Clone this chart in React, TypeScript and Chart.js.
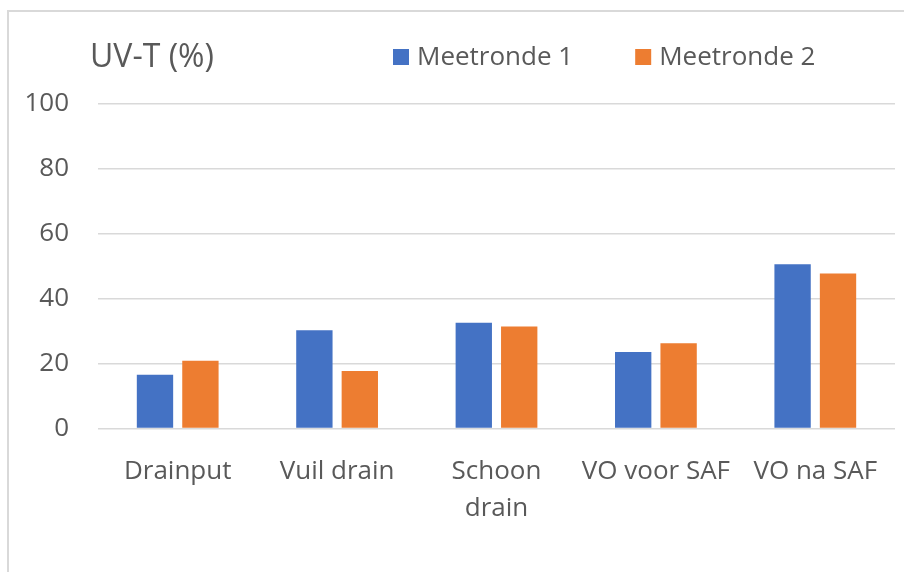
import { useEffect, useRef } from "react";
import { Chart, registerables } from "chart.js";

Chart.register(...registerables);

const categories: (string | string[])[] = ["Drainput", "Vuil drain", ["Schoon", "drain"], "VO voor SAF", "VO na SAF"];
const seriesNames = ["Meetronde 1", "Meetronde 2"];
const meetronde1 = [16.6, 30.3, 32.6, 23.6, 50.6];
const meetronde2 = [20.9, 17.7, 31.4, 26.3, 47.8];
const yMin = 0;
const yMax = 100;
const yStep = 20;
const yTitle = "UV-T (%)";

const BLUE = "#4472C4";
const ORANGE = "#ED7D31";
const TEXT = "#595959";
const GRID = "#d9d9d9";
const FONT = '"Open Sans", "Liberation Sans", sans-serif';

const headerPlugin = {
  id: "header",
  afterDraw(chart: any) {
    const ctx = chart.ctx as CanvasRenderingContext2D;
    const area = chart.chartArea;
    ctx.save();
    ctx.fillStyle = TEXT;
    ctx.textAlign = "left";
    ctx.textBaseline = "alphabetic";
    ctx.font = `32px ${FONT}`;
    ctx.fillText(yTitle, area.left - 8, 67);
    ctx.font = `26px ${FONT}`;
    let x = area.left + 295;
    chart.data.datasets.forEach((ds: any) => {
      ctx.fillStyle = ds.backgroundColor;
      ctx.fillRect(x, 49, 16, 16);
      ctx.fillStyle = TEXT;
      ctx.fillText(ds.label, x + 24, 65);
      x += 24 + ctx.measureText(ds.label).width + 62;
    });
    ctx.restore();
  },
};

export default function App() {
  const ref = useRef<HTMLCanvasElement | null>(null);

  useEffect(() => {
    if (!ref.current) return;
    const chart = new Chart(ref.current, {
      type: "bar",
      data: {
        labels: categories,
        datasets: [
          {
            label: seriesNames[0],
            data: meetronde1,
            backgroundColor: BLUE,
            categoryPercentage: 0.57,
            barPercentage: 0.8,
          },
          {
            label: seriesNames[1],
            data: meetronde2,
            backgroundColor: ORANGE,
            categoryPercentage: 0.57,
            barPercentage: 0.8,
          },
        ],
      },
      options: {
        responsive: false,
        animation: false,
        layout: { padding: { top: 104, right: 9, left: 0, bottom: 0 } },
        plugins: {
          legend: { display: false },
          tooltip: { enabled: false },
          title: { display: false },
        },
        scales: {
          x: {
            grid: { display: false },
            border: { display: false },
            ticks: {
              color: TEXT,
              font: { family: FONT, size: 26, lineHeight: 1.42 },
              padding: 17,
              maxRotation: 0,
              autoSkip: false,
            },
            afterFit: (scale: any) => {
              scale.height = 143.5;
            },
          },
          y: {
            min: yMin,
            max: yMax,
            border: { display: false },
            grid: { color: GRID, lineWidth: 1.5, drawTicks: false },
            ticks: {
              stepSize: yStep,
              color: TEXT,
              font: { family: FONT, size: 26 },
              padding: 29,
            },
            afterFit: (scale: any) => {
              scale.width = 98;
            },
          },
        },
      },
      plugins: [headerPlugin],
    });
    return () => chart.destroy();
  }, []);

  return (
    <div style={{ position: "fixed", left: 0, top: 0, width: 904, height: 572, overflow: "hidden", background: "#fff" }}>
      <canvas ref={ref} width={904} height={572} style={{ display: "block", position: "absolute", left: 0, top: 0 }} />
      <div
        style={{
          position: "absolute",
          left: 7,
          top: 10,
          width: 1000,
          height: 1000,
          border: `2px solid ${GRID}`,
          pointerEvents: "none",
        }}
      />
    </div>
  );
}
